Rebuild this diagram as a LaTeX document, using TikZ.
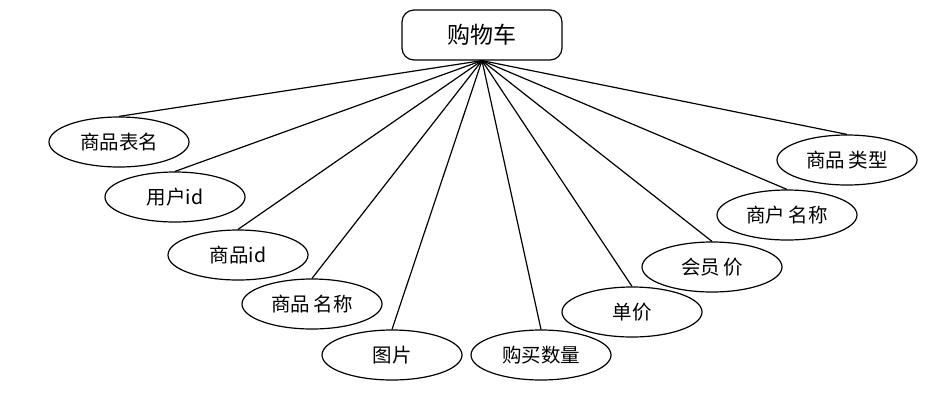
\documentclass[tikz,border=0pt]{standalone}
\usepackage{fontspec}
\newfontfamily\cjk{Noto Sans CJK SC}
\usetikzlibrary{shapes.geometric}
\tikzset{
  attr/.style={ellipse, draw, line width=1.2pt, minimum width=140pt, minimum height=50pt, inner sep=0pt, font=\cjk\fontsize{19.5}{22}\selectfont},
  entity/.style={rectangle, rounded corners=12pt, draw, line width=1.2pt, minimum width=160pt, minimum height=50pt, font=\cjk\fontsize{23}{26}\selectfont}
}
\begin{document}
\begin{tikzpicture}[x=1pt, y=-1pt]
  \useasboundingbox (0,0) rectangle (929,416);

  \node[entity] (cart) at (482,35) {购物车};

  \node[attr] (a1) at (119,142) {商品表名};
  \node[attr] (a2) at (175,197) {用户id};
  \node[attr] (a3) at (238,255) {商品id};
  \node[attr] (a4) at (312,304) {商品\,名称};
  \node[attr] (a5) at (392,355) {图片};
  \node[attr] (a6) at (541,355) {购买数量};
  \node[attr] (a7) at (632,312) {单价};
  \node[attr] (a8) at (712,267) {会员\,价};
  \node[attr] (a9) at (787,215) {商户\,名称};
  \node[attr] (a10) at (847,160) {商品\,类型};

  \draw[line width=1.2pt] (cart.south) -- (a1.north);
  \draw[line width=1.2pt] (cart.south) -- (a2.north);
  \draw[line width=1.2pt] (cart.south) -- (a3.north);
  \draw[line width=1.2pt] (cart.south) -- (a4.north);
  \draw[line width=1.2pt] (cart.south) -- (a5.north);
  \draw[line width=1.2pt] (cart.south) -- (a6.north);
  \draw[line width=1.2pt] (cart.south) -- (a7.north);
  \draw[line width=1.2pt] (cart.south) -- (a8.north);
  \draw[line width=1.2pt] (cart.south) -- (a9.north);
  \draw[line width=1.2pt] (cart.south) -- (a10.north);
\end{tikzpicture}
\end{document}
